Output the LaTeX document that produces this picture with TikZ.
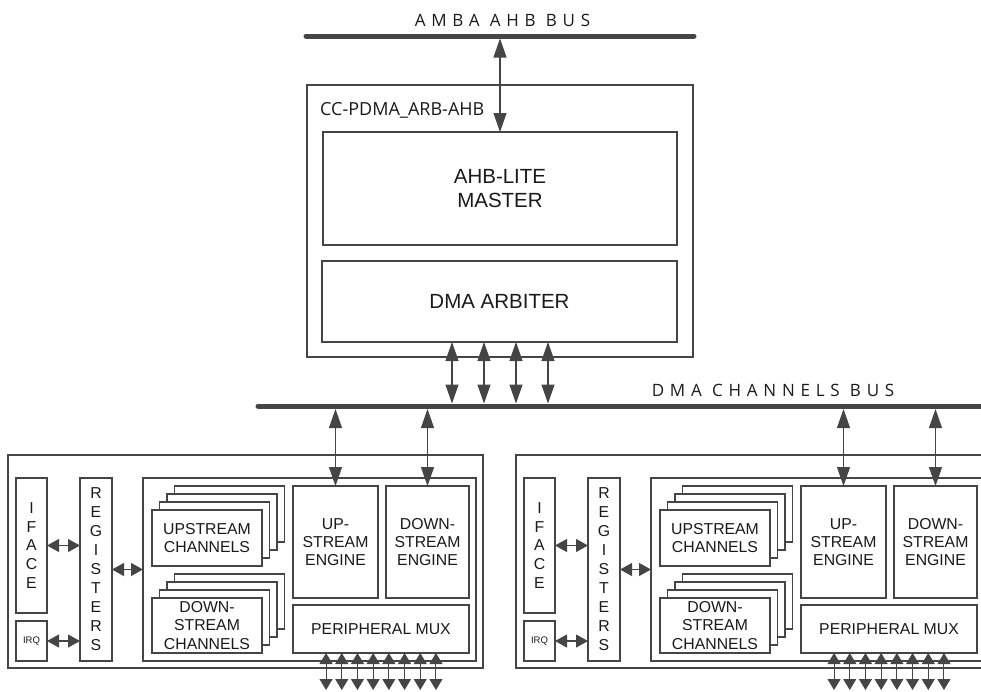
\documentclass[tikz,border=0pt]{standalone}
\usepackage{fontspec}
\setmainfont{Liberation Sans}
\newfontfamily\busfont{Open Sans}
\newfontfamily\busfontsp[LetterSpace=34]{Open Sans}
\usetikzlibrary{arrows.meta}
\definecolor{ln}{HTML}{454545}
\definecolor{tx}{HTML}{1A1A1A}
\tikzset{
  box/.style={draw=ln, line width=1.4pt, fill=white, inner sep=0pt, outer sep=0pt,
    text=tx, align=center, font=\fontsize{15.8}{18.5}\selectfont},
  busline/.style={draw=ln, line width=5pt, line cap=round},
  bigarr/.style={draw=ln, fill=ln, line width=1.1pt,
    {Triangle[length=19pt,width=13pt]}-{Triangle[length=19pt,width=13pt]}},
  midarr/.style={draw=ln, fill=ln, line width=1.1pt,
    {Triangle[length=12pt,width=13pt]}-{Triangle[length=12pt,width=13pt]}},
  smallarr/.style={draw=ln, fill=ln, line width=1pt,
    {Triangle[length=11pt,width=13pt]}-{Triangle[length=11pt,width=13pt]}},
  buslabel/.style={inner sep=0pt, text=tx, anchor=base, font=\busfontsp\fontsize{17}{20}\selectfont},
}
\newcommand\dmablock[2]{%
  \begin{scope}[xshift=#2pt]
    \node[box, minimum width=475pt, minimum height=213pt] (#1outer) at (245.5,561.5) {};
    \node[box, minimum width=31pt, minimum height=135pt, font=\fontsize{15.8}{18.7}\selectfont] (#1iface) at (31.5,545.5) {I\\F\\A\\C\\E};
    \node[box, minimum width=31pt, minimum height=40pt, font=\fontsize{9.5}{11}\selectfont] (#1irq) at (31.5,641) {IRQ};
    \node[box, minimum width=32pt, minimum height=183pt, font=\fontsize{15.8}{19}\selectfont] (#1reg) at (96,569.5) {R\\E\\G\\I\\S\\T\\E\\R\\S};
    \node[box, minimum width=333pt, minimum height=183pt] (#1inner) at (309.5,569.5) {};
    % upstream channel stack
    \node[box, minimum width=110pt, minimum height=56pt] (#1upb3) at (229.5,514) {};
    \node[box, minimum width=110pt, minimum height=56pt] (#1upb2) at (222,522) {};
    \node[box, minimum width=110pt, minimum height=56pt] (#1upb1) at (214.5,530) {};
    \node[box, minimum width=110pt, minimum height=56pt] (#1upch) at (207,538) {UPSTREAM\\CHANNELS};
    % downstream channel stack
    \node[box, minimum width=110pt, minimum height=55pt] (#1dnb3) at (229.5,601.5) {};
    \node[box, minimum width=110pt, minimum height=55pt] (#1dnb2) at (222,609.5) {};
    \node[box, minimum width=110pt, minimum height=55pt] (#1dnb1) at (214.5,617.5) {};
    \node[box, minimum width=110pt, minimum height=55pt] (#1dnch) at (207,625.5) {DOWN-\\STREAM\\CHANNELS};
    % engines and mux
    \node[box, minimum width=85pt, minimum height=112pt, font=\fontsize{15.8}{17.8}\selectfont] (#1upeng) at (335.5,542) {UP-\\STREAM\\ENGINE};
    \node[box, minimum width=83pt, minimum height=112pt, font=\fontsize{15.8}{17.8}\selectfont] (#1dneng) at (427.5,542) {DOWN-\\STREAM\\ENGINE};
    \node[box, minimum width=176pt, minimum height=48pt] (#1pmux) at (381,629) {PERIPHERAL MUX};
    % internal connectors
    \draw[midarr] (#1iface.east) -- (#1iface.east -| #1reg.west);
    \draw[midarr] (#1irq.east) -- (#1irq.east -| #1reg.west);
    \draw[midarr] (#1reg.east) -- (#1inner.west);
    % bus connectors
    \coordinate (#1bu) at (335.5,409);
    \coordinate (#1bd) at (427.5,409);
    \draw[bigarr] (#1bu) -- (#1upeng.north);
    \draw[bigarr] (#1bd) -- (#1dneng.north);
    % peripheral lines
    \foreach \i in {0,...,7}{
      \coordinate (#1pe\i) at ({381+(\i-3.5)*15.7},690);
      \draw[smallarr] (#1pmux.south -| #1pe\i) -- (#1pe\i);
    }
  \end{scope}
}
\begin{document}
\begin{tikzpicture}[x=1pt,y=-1pt]
  \useasboundingbox (0,0) rectangle (981,691);
  \clip (0,0) rectangle (981,691);
  % AMBA AHB bus
  \coordinate (ambaL) at (306,36);
  \coordinate (ambaR) at (694,36);
  \draw[busline] (ambaL) -- (ambaR);
  \node[buslabel] (ambalbl) at (502.5,26.5) {AMBA AHB BUS};
  % arbiter block
  \node[box, minimum width=386pt, minimum height=272pt] (cc) at (500,221) {};
  \node[anchor=base west, inner sep=0pt, text=tx, font=\busfont\fontsize{18}{21}\selectfont] (cclbl) at (320,115) {CC-PDMA\_ARB-AHB};
  \node[box, minimum width=354pt, minimum height=113pt, font=\fontsize{20.5}{23.5}\selectfont] (ahb) at (500,188.5) {AHB-LITE\\MASTER};
  \node[box, minimum width=355pt, minimum height=81pt, font=\fontsize{20.5}{23.5}\selectfont] (arb) at (499.5,301.5) {DMA ARBITER};
  \coordinate (ambaP) at (500,38.5);
  \draw[bigarr] (ambaP) -- (ahb.north);
  % DMA channels bus
  \coordinate (dmaL) at (258,406);
  \coordinate (dmaR) at (995,406);
  \draw[busline] (dmaL) -- (dmaR);
  \node[buslabel] (dmalbl) at (773,396) {DMA CHANNELS BUS};
  \foreach \i in {0,...,3}{
    \coordinate (arbp\i) at ({500+(\i-1.5)*32},403.5);
    \draw[bigarr] (arb.south -| arbp\i) -- (arbp\i);
  }
  % two channel blocks
  \dmablock{L}{0}
  \dmablock{R}{508}
\end{tikzpicture}
\end{document}
